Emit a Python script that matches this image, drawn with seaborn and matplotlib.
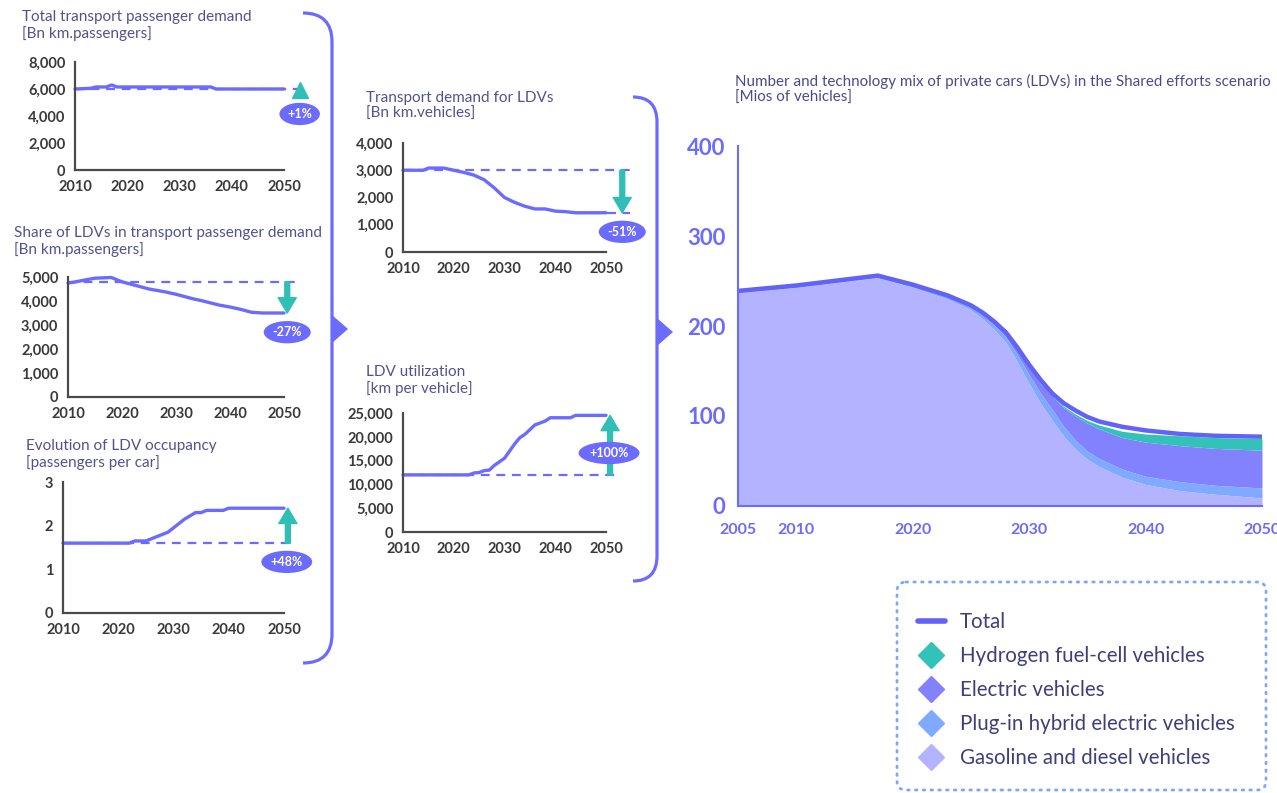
import numpy as np
import pandas as pd
import matplotlib.pyplot as plt
import seaborn as sns
from matplotlib.path import Path
from matplotlib.patches import PathPatch, FancyBboxPatch, Polygon
from matplotlib.lines import Line2D

# ---- data: small panels ----
c1_years = [2010, 2013, 2014, 2016, 2017, 2018, 2020, 2025, 2030, 2035, 2036, 2037, 2040, 2045, 2050]
c1_vals = [6000, 6050, 6150, 6150, 6300, 6150, 6150, 6150, 6150, 6150, 6150, 6000, 6000, 6000, 6000]

c2_years = [2010, 2011, 2013, 2015, 2018, 2020, 2022, 2025, 2028, 2030, 2033, 2035, 2038, 2040, 2042, 2044, 2046, 2050]
c2_vals = [4750, 4780, 4870, 4950, 4980, 4800, 4680, 4500, 4380, 4280, 4100, 4000, 3830, 3750, 3650, 3530, 3500, 3500]

c3_years = [2010, 2022, 2023, 2025, 2026, 2028, 2029, 2030, 2031, 2032, 2034, 2035, 2036, 2039, 2040, 2050]
c3_vals = [1.6, 1.6, 1.65, 1.65, 1.7, 1.8, 1.85, 1.95, 2.05, 2.15, 2.3, 2.3, 2.35, 2.35, 2.4, 2.4]

c4_years = [2010, 2014, 2015, 2018, 2020, 2022, 2024, 2026, 2028, 2030, 2032, 2034, 2036, 2038, 2040, 2042, 2044, 2050]
c4_vals = [3000, 3000, 3080, 3080, 3000, 2920, 2820, 2650, 2350, 2000, 1820, 1680, 1580, 1580, 1500, 1480, 1440, 1440]

c5_years = [2010, 2023, 2024, 2025, 2026, 2027, 2028, 2030, 2032, 2033, 2034, 2036, 2038, 2039, 2043, 2044, 2050]
c5_vals = [12000, 12000, 12400, 12500, 12900, 13000, 14000, 15500, 18500, 19800, 20500, 22500, 23300, 24000, 24000, 24500, 24500]

panel_titles = ["Total transport passenger demand\n[Bn km.passengers]",
                "Share of LDVs in transport passenger demand\n[Bn km.passengers]",
                "Evolution of LDV occupancy\n[passengers per car]",
                "Transport demand for LDVs\n[Bn km.vehicles]",
                "LDV utilization\n[km per vehicle]"]
panel_changes = ["+1%", "-27%", "+48%", "-51%", "+100%"]

# ---- data: main stacked area ----
mix_years = [2005, 2010, 2017, 2020, 2023, 2025, 2026, 2027, 2028, 2029, 2030, 2031,
             2032, 2033, 2034, 2035, 2036, 2038, 2040, 2043, 2046, 2050]
gasoline = [237, 243, 254, 243, 230, 218, 208, 196, 182, 160, 136, 114,
            95, 77, 63, 52, 44, 32, 24, 17, 13, 9]
phev = [1, 1, 1, 2, 2, 3, 4, 5, 6, 8, 10, 11,
        12, 11, 10, 9, 9, 9, 9, 10, 10, 11]
electric = [0, 0, 0, 0.5, 1, 1, 1.5, 2, 3, 5, 8, 11,
            15, 21, 27, 31, 33, 35, 38, 40, 41, 42]
hydrogen = [0, 0, 0, 0, 0, 0, 0, 0, 0.5, 0.5, 1, 1,
            1, 1.5, 2, 3, 4, 7, 9, 11, 12, 13]
total = [239, 245, 256, 246, 234, 223, 215, 205, 193, 176, 157, 140,
         125, 114, 106, 99, 94, 88, 84, 80, 78, 77]
legend_labels = ["Total", "Hydrogen fuel-cell vehicles", "Electric vehicles",
                 "Plug-in hybrid electric vehicles", "Gasoline and diesel vehicles"]

# ---- style ----
sns.set_style("white")
plt.rcParams['font.family'] = ['Lato', 'DejaVu Sans']

W, H = 1277, 793
LINE = '#6b6bff'
TEAL = '#2fbfb4'
TITLE_C = '#52528f'
TICK_C = '#3a3a3a'
AX_C = '#4a4a4a'

fig = plt.figure(figsize=(W / 100, H / 100), dpi=100)


def px_axes(x0, x1, ytop, ybot):
    return fig.add_axes([x0 / W, 1 - ybot / H, (x1 - x0) / W, (ybot - ytop) / H])


def small_panel(box, years, vals, ymax, ystep, fmt, title, title_xy):
    ax = px_axes(*box)
    sns.lineplot(x=years, y=vals, ax=ax, color=LINE, lw=2.4, clip_on=False)
    ax.set_xlim(2010, 2050)
    ax.set_ylim(0, ymax)
    ax.set_xticks(range(2010, 2051, 10))
    ax.set_yticks(np.arange(0, ymax + 1e-9, ystep))
    ax.set_yticklabels([fmt(v) for v in np.arange(0, ymax + 1e-9, ystep)])
    for s in ['top', 'right']:
        ax.spines[s].set_visible(False)
    for s in ['left', 'bottom']:
        ax.spines[s].set_color(AX_C)
        ax.spines[s].set_linewidth(1.6)
    ax.tick_params(length=3, width=1.4, color=AX_C, labelsize=10.5, labelcolor=TICK_C, pad=4)
    for lab in ax.get_xticklabels() + ax.get_yticklabels():
        lab.set_fontweight('bold')
    ax.set_xlabel('')
    ax.set_ylabel('')
    fig.text(title_xy[0] / W, 1 - title_xy[1] / H, title, fontsize=11, color=TITLE_C,
             va='top', ha='left', linespacing=1.15)
    return ax


def dashed(ax, x0, x1, y):
    ax.plot([x0, x1], [y, y], color=LINE, lw=1.6, ls=(0, (4, 3)), clip_on=False)


def arrow(ax, x, y0, y1):
    ax.annotate('', xy=(x, y1), xytext=(x, y0), annotation_clip=False,
                arrowprops=dict(width=3.5, headwidth=13, headlength=11, color=TEAL, shrink=0))


def badge(ax, x, y, text):
    ax.text(x, y, text, ha='center', va='center', fontsize=9, fontweight='bold', color='white',
            clip_on=False, bbox=dict(boxstyle='ellipse,pad=0.15', fc=LINE, ec='none'))


thousands = lambda v: f"{int(v):,}"

# panel 1
ax1 = small_panel((75, 284, 62, 170), c1_years, c1_vals, 8000, 2000, thousands, panel_titles[0], (22, 10))
dashed(ax1, 2010, 2054.6, c1_vals[0])
ax1.plot([2053], [5950], marker='^', color=TEAL, ms=11, clip_on=False)
badge(ax1, 2053, 4150, panel_changes[0])

# panel 2
ax2 = small_panel((68, 284, 277, 397), c2_years, c2_vals, 5000, 1000, thousands, panel_titles[1], (14, 226))
dashed(ax2, 2010, 2052, 4800)
arrow(ax2, 2050.6, 4800, c2_vals[-1])
badge(ax2, 2050.6, 2700, panel_changes[1])

# panel 3
ax3 = small_panel((63, 284, 482, 613), c3_years, c3_vals, 3, 1, lambda v: f"{int(v)}", panel_titles[2], (26, 439))
dashed(ax3, 2010, 2051.4, c3_vals[0])
arrow(ax3, 2050.7, c3_vals[0], c3_vals[-1])
badge(ax3, 2050.5, 1.17, panel_changes[2])

# panel 4
ax4 = small_panel((403, 606, 143, 252), c4_years, c4_vals, 4000, 1000, thousands, panel_titles[3], (366, 91))
dashed(ax4, 2010, 2054.7, c4_vals[0])
dashed(ax4, 2044, 2054.7, c4_vals[-1])
arrow(ax4, 2053.2, c4_vals[0], c4_vals[-1])
badge(ax4, 2053.2, 740, panel_changes[3])

# panel 5
ax5 = small_panel((403, 606, 413, 532), c5_years, c5_vals, 25000, 5000, thousands, panel_titles[4], (366, 365))
dashed(ax5, 2010, 2052.2, c5_vals[0])
arrow(ax5, 2050.8, c5_vals[0], c5_vals[-1])
badge(ax5, 2050.6, 16600, panel_changes[4])

# ---- main chart ----
axm = px_axes(738, 1262, 146, 506)
axm.stackplot(mix_years, gasoline, phev, electric, hydrogen,
              colors=['#b3b3ff', '#80aaff', '#8282ff', '#33c2b8'], lw=0)
sns.lineplot(x=mix_years, y=total, ax=axm, color='#6262f7', lw=3.2)
axm.set_xlim(2005, 2050)
axm.set_ylim(0, 400)
axm.set_xticks([2005, 2010, 2020, 2030, 2040, 2050])
axm.set_yticks([0, 100, 200, 300, 400])
for s in ['top', 'right']:
    axm.spines[s].set_visible(False)
for s in ['left', 'bottom']:
    axm.spines[s].set_color(LINE)
    axm.spines[s].set_linewidth(1.5)
axm.tick_params(axis='y', length=0, labelsize=16, labelcolor=LINE, pad=9)
axm.tick_params(axis='x', length=0, labelsize=11.5, labelcolor=LINE, pad=12)
for lab in axm.get_xticklabels() + axm.get_yticklabels():
    lab.set_fontweight('bold')
axm.set_xlabel('')
axm.set_ylabel('')
fig.text(735 / W, 1 - 74 / H,
         "Number and technology mix of private cars (LDVs) in the Shared efforts scenario\n[Mios of vehicles]",
         fontsize=10.9, color='#4b4b8c', va='top', ha='left', linespacing=1.2)

# ---- overlay: brackets and legend box ----
ov = fig.add_axes([0, 0, 1, 1], zorder=-1)
ov.set_xlim(0, W)
ov.set_ylim(H, 0)
ov.axis('off')


def bracket(x_start, x_line, y_top, y_bot, r, y_tri):
    verts = [(x_start, y_top), (x_line, y_top), (x_line, y_top + r), (x_line, y_bot - r),
             (x_line, y_bot), (x_start, y_bot)]
    codes = [Path.MOVETO, Path.CURVE3, Path.CURVE3, Path.LINETO, Path.CURVE3, Path.CURVE3]
    ov.add_patch(PathPatch(Path(verts, codes), fc='none', ec=LINE, lw=2.3))
    ov.add_patch(Polygon([(x_line, y_tri - 14), (x_line + 16, y_tri), (x_line, y_tri + 14)],
                         closed=True, fc=LINE, ec='none'))


bracket(303, 332, 13, 663, 29, 329)
bracket(633, 657, 97, 581, 25, 332)

box = FancyBboxPatch((897, 582), 369, 208, boxstyle='round,pad=0,rounding_size=9',
                     fc='none', ec='#7fa6ff', lw=2, ls=(0, (0.6, 2.2)))
box.set_capstyle('round')
ov.add_patch(box)

handles = [Line2D([], [], color='#6262f7', lw=4),
           Line2D([], [], ls='', marker='D', ms=13, color='#33c2b8'),
           Line2D([], [], ls='', marker='D', ms=13, color='#8282ff'),
           Line2D([], [], ls='', marker='D', ms=13, color='#80aaff'),
           Line2D([], [], ls='', marker='D', ms=13, color='#b3b3ff')]
leg = fig.legend(handles, legend_labels, loc='upper left', bbox_to_anchor=(918 / W, 1 - 612 / H),
                 frameon=False, fontsize=14.8, labelcolor='#3f3f7a', handlelength=1.3,
                 handletextpad=0.73, labelspacing=0.68, borderpad=0, borderaxespad=0)

fig.savefig('out.png', dpi=100)
